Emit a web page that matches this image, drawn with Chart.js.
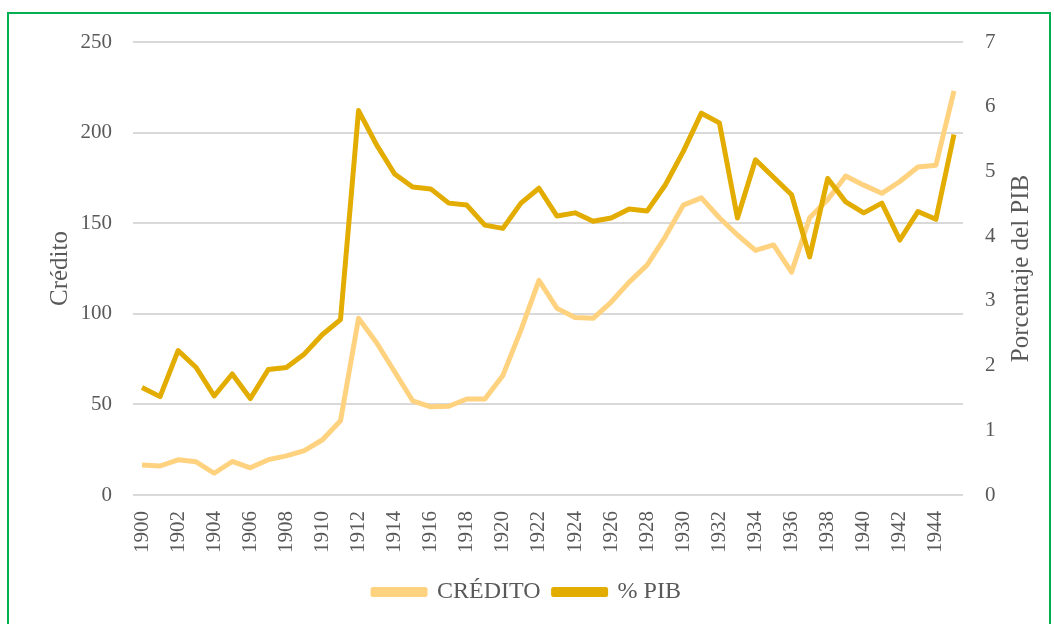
<!DOCTYPE html>
<html>
<head>
<meta charset="utf-8">
<script src="https://cdn.jsdelivr.net/npm/chart.js@4.4.1/dist/chart.umd.min.js"></script>
<style>
  html, body { margin: 0; padding: 0; background: #fff; overflow: hidden; }
  #wrap { position: relative; width: 1054px; height: 624px; }
  #frame {
    position: absolute; left: 7px; top: 12px; width: 1044px; height: 640px;
    border: 2px solid #00B050; box-sizing: border-box;
  }
  canvas { position: absolute; left: 0; top: 0; }
</style>
</head>
<body>
<div id="wrap">
  <div id="frame"></div>
  <canvas id="chart" width="1054" height="624"></canvas>
</div>
<script>
const years = [];
for (let y = 1900; y <= 1945; y++) years.push(String(y));

// crédito (left axis)
const credito = [
  16.6, 16, 19.4, 18.3, 12, 18.5, 15, 19.5, 21.6, 24.5,
  30.5, 41, 97.5, 84, 68, 52, 48.7, 49, 53, 53,
  66, 91, 118.5, 103, 98, 97.5, 106.5, 117.5, 127, 142.5,
  160, 164, 153, 143.5, 135, 138, 123, 153, 163, 176,
  171, 166.5, 173, 181, 182, 223
];

// % del PIB (right axis)
const pib = [
  1.66, 1.52, 2.23, 1.97, 1.53, 1.87, 1.49, 1.94, 1.97, 2.18,
  2.48, 2.71, 5.94, 5.41, 4.96, 4.76, 4.73, 4.51, 4.48, 4.17,
  4.12, 4.51, 4.74, 4.31, 4.36, 4.23, 4.28, 4.42, 4.39, 4.79,
  5.31, 5.90, 5.75, 4.28, 5.18, 4.91, 4.64, 3.68, 4.89, 4.53,
  4.36, 4.51, 3.94, 4.38, 4.26, 5.57
];

const textColor = "#595959";
const gridColor = "#D9D9D9";
const serif = "'Liberation Serif', 'DejaVu Serif', serif";

// right axis title reads bottom-to-top, so draw it here
const rightTitle = {
  id: "rightTitle",
  afterDraw(chart) {
    const ctx = chart.ctx;
    const area = chart.chartArea;
    ctx.save();
    ctx.translate(1021, (area.top + area.bottom) / 2);
    ctx.rotate(-Math.PI / 2);
    ctx.fillStyle = textColor;
    ctx.font = "25px " + serif;
    ctx.textAlign = "center";
    ctx.textBaseline = "middle";
    ctx.fillText("Porcentaje del PIB", 0, 0);
    ctx.restore();
  }
};

new Chart(document.getElementById("chart"), {
  type: "line",
  data: {
    labels: years,
    datasets: [
      {
        label: "CRÉDITO",
        data: credito,
        yAxisID: "y",
        borderColor: "#FFD280",
        backgroundColor: "#FFD280",
        borderWidth: 5,
        pointRadius: 0,
        borderJoinStyle: "round",
        order: 1
      },
      {
        label: "% PIB",
        data: pib,
        yAxisID: "y1",
        borderColor: "#E2AC00",
        backgroundColor: "#E2AC00",
        borderWidth: 5,
        pointRadius: 0,
        borderJoinStyle: "round",
        order: 0
      }
    ]
  },
  options: {
    responsive: false,
    animation: false,
    layout: { padding: { top: 42, bottom: 10 } },
    plugins: {
      tooltip: { enabled: false },
      legend: {
        position: "bottom",
        labels: {
          color: textColor,
          font: { family: serif, size: 24 },
          boxWidth: 52,
          boxHeight: 5,
          padding: 13,
          sort: (a, b) => a.datasetIndex - b.datasetIndex
        }
      }
    },
    scales: {
      x: {
        offset: true,
        grid: { display: false },
        border: { display: false },
        ticks: {
          color: textColor,
          font: { family: serif, size: 21 },
          autoSkip: false,
          maxRotation: 90,
          minRotation: 90,
          padding: 8,
          callback: function (value, index) {
            return index % 2 === 0 ? this.getLabelForValue(value) : "";
          }
        },
        afterFit: (scale) => { scale.height = 72; }
      },
      y: {
        position: "left",
        min: 0,
        max: 250,
        grid: { color: gridColor, lineWidth: 2, drawTicks: false },
        border: { display: false },
        ticks: {
          stepSize: 50,
          color: textColor,
          font: { family: serif, size: 21 },
          padding: 21
        },
        title: {
          display: true,
          text: "Crédito",
          color: textColor,
          font: { family: serif, size: 25 },
          padding: { top: 45, bottom: 0 }
        },
        afterFit: (scale) => { scale.width = 133; }
      },
      y1: {
        position: "right",
        min: 0,
        max: 7,
        grid: { display: false, drawTicks: false },
        border: { display: false },
        ticks: {
          stepSize: 1,
          color: textColor,
          font: { family: serif, size: 21 },
          padding: 22
        },
        afterFit: (scale) => { scale.width = 91; }
      }
    }
  },
  plugins: [rightTitle]
});
</script>
</body>
</html>
